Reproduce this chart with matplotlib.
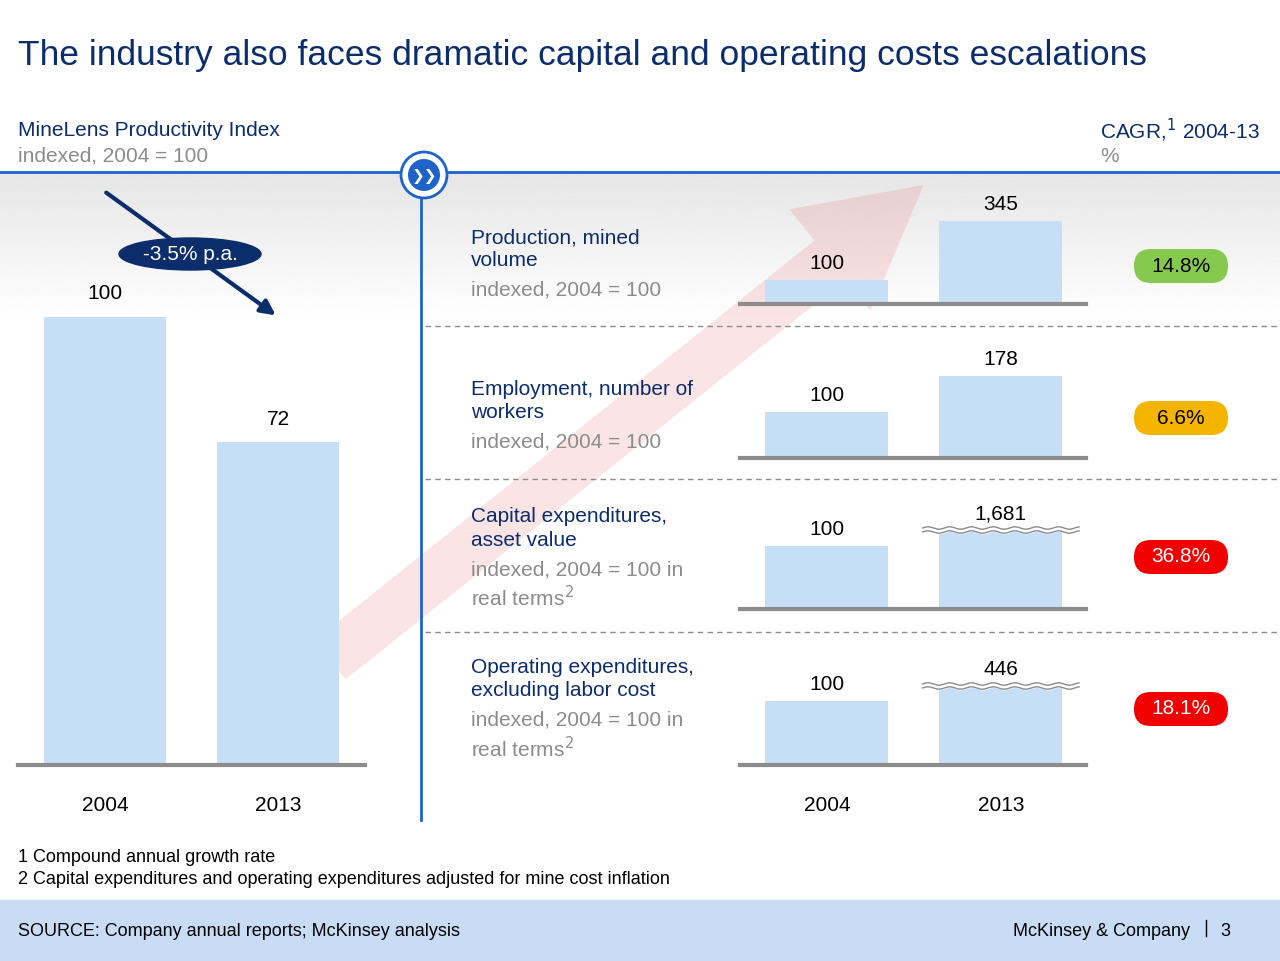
import numpy as np
import matplotlib
matplotlib.use("Agg")
import matplotlib.pyplot as plt
from matplotlib.patches import FancyBboxPatch, Circle, Ellipse, Rectangle, FancyArrow

plt.rcParams['font.family'] = ['Liberation Sans', 'DejaVu Sans']

W, H = 1280, 961
NAVY = '#0B2D6B'
BLUE = '#1E64C8'
BAR = '#C6DFF7'
GREY = '#8C8C8C'
FS = 15

# data
years = ['2004', '2013']
productivity = [100, 72]
rows = ['Production, mined\nvolume', 'Employment, number of\nworkers',
        'Capital expenditures,\nasset value', 'Operating expenditures,\nexcluding labor cost']
row_units = ['indexed, 2004 = 100', 'indexed, 2004 = 100',
             'indexed, 2004 = 100 in\nreal terms$^2$', 'indexed, 2004 = 100 in\nreal terms$^2$']
values_2004 = [100, 100, 100, 100]
values_2013 = [345, 178, 1681, 446]
broken_axis = [False, False, True, True]
cagr = ['14.8%', '6.6%', '36.8%', '18.1%']
cagr_colors = ['#86C94F', '#F5B400', '#F20000', '#F20000']

fig = plt.figure(figsize=(12.8, 9.61), dpi=100)
bg = fig.add_axes([0, 0, 1, 1])
bg.set_xlim(0, W)
bg.set_ylim(H, 0)
bg.axis('off')


def rect(x0, y0, x1, y1):
    return [x0 / W, 1 - y1 / H, (x1 - x0) / W, (y1 - y0) / H]


# grey gradient band under the header line
grad = np.linspace(0.9, 1.0, 100).reshape(-1, 1)
bg.imshow(grad, cmap='gray', vmin=0, vmax=1, extent=(0, W, 320, 172), aspect='auto', zorder=0)

# faint decorative arrow
bg.add_patch(FancyArrow(330, 660, 500, -400, width=50, head_width=130, head_length=120,
                        color='#E84040', alpha=0.14, lw=0, zorder=0.5))

bg.text(18, 55, 'The industry also faces dramatic capital and operating costs escalations',
        fontsize=25.5, color=NAVY, va='center')
bg.text(18, 130, 'MineLens Productivity Index', fontsize=FS, color=NAVY, va='center')
bg.text(18, 156, 'indexed, 2004 = 100', fontsize=FS, color=GREY, va='center')
bg.text(1100, 130, 'CAGR,$^1$ 2004-13', fontsize=FS, color=NAVY, va='center')
bg.text(1100, 156, '%', fontsize=FS, color=GREY, va='center')
bg.plot([0, W], [172, 172], color=BLUE, lw=2, zorder=2)
bg.plot([421, 421], [172, 820], color=BLUE, lw=2, zorder=2)
for y in [326, 479, 632]:
    bg.plot([425, W], [y, y], color=GREY, lw=1, ls=(0, (4, 3)), zorder=2)

# chevron icon
bg.add_patch(Circle((424, 175), 23, facecolor='white', edgecolor=BLUE, lw=2, zorder=3))
bg.add_patch(Circle((424, 175), 16, facecolor=BLUE, edgecolor='none', zorder=4))
bg.text(424, 176, '❯❯', color='white', fontsize=11, ha='center', va='center',
        family=['DejaVu Sans'], fontweight='bold', zorder=5)

# left chart
ax = fig.add_axes(rect(18, 200, 365, 765))
ax.patch.set_alpha(0)
x = np.arange(len(years))
ax.bar(x, productivity, width=0.705, color=BAR, zorder=2)
for xi, v in zip(x, productivity):
    ax.text(xi, v + 3, str(v), ha='center', va='bottom', fontsize=FS)
ax.set_xlim(-0.503, 1.503)
ax.set_ylim(0, 126)
ax.set_xticks(x, years, fontsize=FS)
ax.tick_params(length=0, pad=22)
ax.set_yticks([])
for s in ['top', 'right', 'left']:
    ax.spines[s].set_visible(False)
ax.spines['bottom'].set_color(GREY)
ax.spines['bottom'].set_linewidth(3)

bg.annotate('', xy=(278, 317), xytext=(104, 191),
            arrowprops=dict(arrowstyle='-|>', color=NAVY, lw=3, mutation_scale=22), zorder=3)
bg.add_patch(Ellipse((190, 254), 142, 32, color=NAVY, zorder=4))
bg.text(190, 254, '-3.5% p.a.', color='white', fontsize=FS, ha='center', va='center', zorder=5)

# right charts
baselines = [304, 458, 609, 765]
px100 = [24, 46, 63, 64]
for i in range(4):
    yb = baselines[i]
    a = fig.add_axes(rect(740, yb - 100, 1086, yb))
    a.patch.set_alpha(0)
    top = 100 * 100 / px100[i]
    cap = top * 0.79 if broken_axis[i] else top
    shown = [min(values_2004[i], cap), min(values_2013[i], cap)]
    a.bar(x, shown, width=0.707, color=BAR, zorder=2)
    for xi, v, s in zip(x, [values_2004[i], values_2013[i]], shown):
        a.text(xi, s + top * 0.07, f'{v:,}', ha='center', va='bottom', fontsize=FS)
    if broken_axis[i]:
        t = np.linspace(0.55, 1.45, 200)
        wave = np.sin((t - 0.55) * 2 * np.pi * 8) * top * 0.012
        a.fill_between(t, cap - top * 0.02 + wave, cap + top * 0.02 + wave, color='white', zorder=3)
        a.plot(t, cap - top * 0.02 + wave, color=GREY, lw=1, zorder=4)
        a.plot(t, cap + top * 0.02 + wave, color=GREY, lw=1, zorder=4)
    a.set_xlim(-0.5, 1.49)
    a.set_ylim(0, top)
    a.set_yticks([])
    if i == 3:
        a.set_xticks(x, years, fontsize=FS)
        a.tick_params(length=0, pad=22)
    else:
        a.set_xticks([])
    for s in ['top', 'right', 'left']:
        a.spines[s].set_visible(False)
    a.spines['bottom'].set_color(GREY)
    a.spines['bottom'].set_linewidth(3)

    ty = [228, 380, 507, 658][i]
    bg.text(471, ty, rows[i], fontsize=FS, color=NAVY, va='top', linespacing=1.3)
    bg.text(471, ty + 53, row_units[i], fontsize=FS, color=GREY, va='top', linespacing=1.3)

    cy = [266, 418, 557, 709][i]
    bg.add_patch(FancyBboxPatch((1134, cy - 17), 94, 34, boxstyle='round,pad=0,rounding_size=17',
                                facecolor=cagr_colors[i], edgecolor='none', zorder=3))
    bg.text(1181, cy, cagr[i], fontsize=FS, ha='center', va='center',
            color='black' if i < 2 else 'white', zorder=4)

# footnotes and footer
bg.text(18, 858, '1 Compound annual growth rate', fontsize=13, va='center')
bg.text(18, 880, '2 Capital expenditures and operating expenditures adjusted for mine cost inflation',
        fontsize=13, va='center')
bg.add_patch(Rectangle((0, 900), W, 61, color='#C8DDF5', zorder=1))
bg.text(18, 931, 'SOURCE: Company annual reports; McKinsey analysis', fontsize=13, va='center', zorder=2)
bg.text(1190, 931, 'McKinsey & Company', fontsize=13, va='center', ha='right', zorder=2)
bg.plot([1206, 1206], [920, 936], color='black', lw=1, zorder=2)
bg.text(1220, 931, '3', fontsize=13, va='center', zorder=2)

fig.savefig('out.png', dpi=100)
